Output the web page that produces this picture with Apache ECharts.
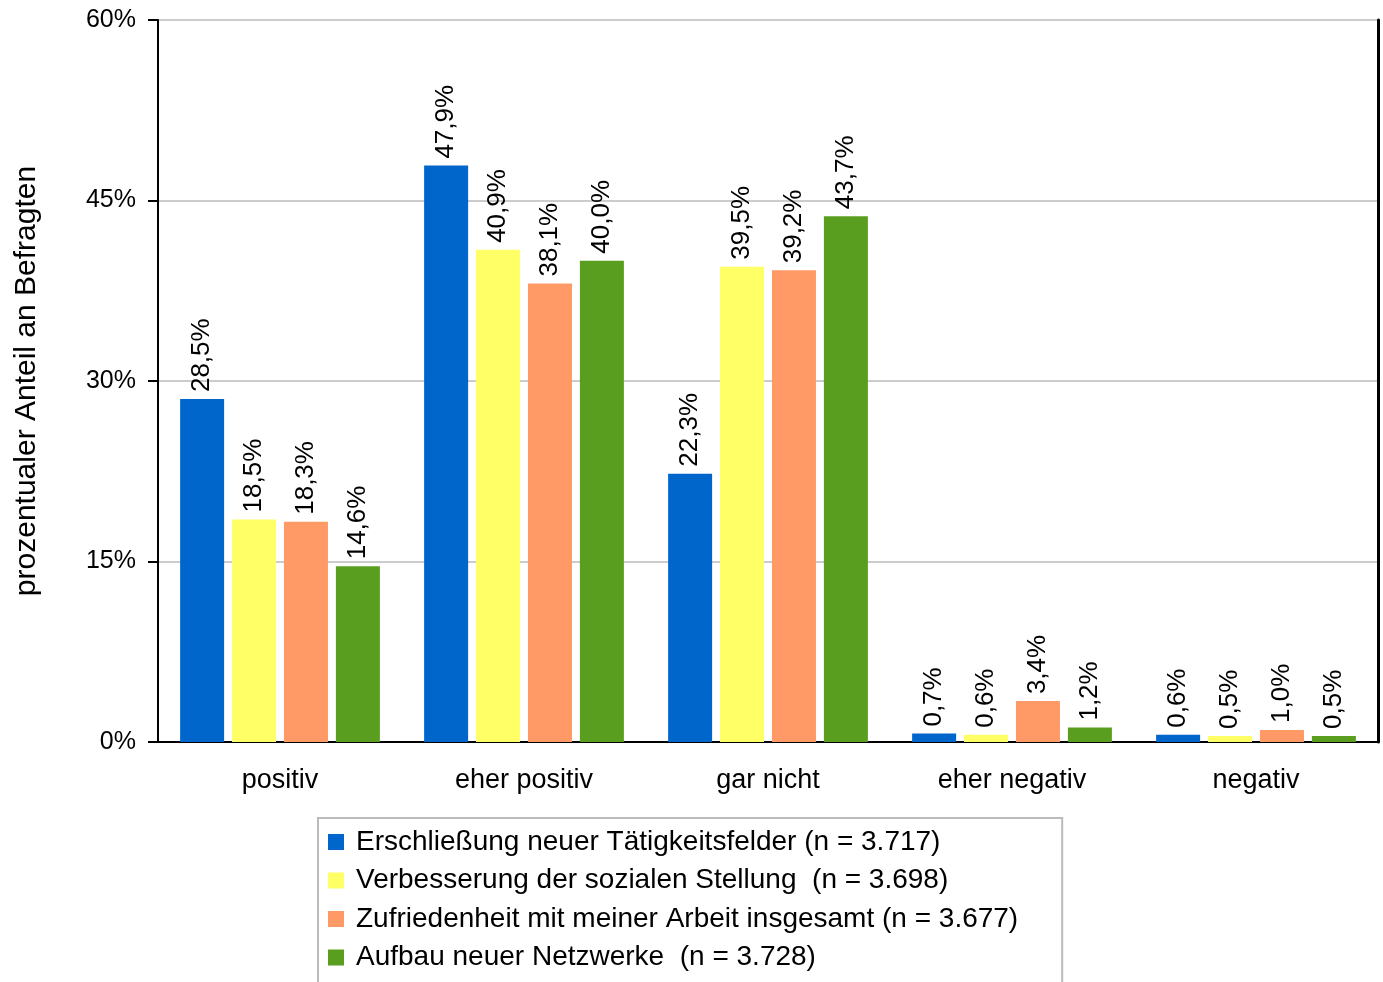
<!DOCTYPE html>
<html>
<head>
<meta charset="utf-8">
<title>Bewertung</title>
<script src="https://cdn.jsdelivr.net/npm/echarts@6/dist/echarts.min.js"></script>
<style>
  html, body { margin: 0; padding: 0; background: #fff; }
  #main { width: 1383px; height: 982px; }
</style>
</head>
<body>
<div id="main"></div>
<script>
// categories and values
var categories = ['positiv', 'eher positiv', 'gar nicht', 'eher negativ', 'negativ'];
var seriesNames = [
  'Erschließung neuer Tätigkeitsfelder (n = 3.717)',
  'Verbesserung der sozialen Stellung  (n = 3.698)',
  'Zufriedenheit mit meiner Arbeit insgesamt (n = 3.677)',
  'Aufbau neuer Netzwerke  (n = 3.728)'
];
var erschliessung = [28.5, 47.9, 22.3, 0.7, 0.6];
var verbesserung = [18.5, 40.9, 39.5, 0.6, 0.5];
var zufriedenheit = [18.3, 38.1, 39.2, 3.4, 1.0];
var netzwerke = [14.6, 40.0, 43.7, 1.2, 0.5];
var yTicks = [0, 15, 30, 45, 60];

var colors = ['#0066cc', '#ffff66', '#ff9966', '#599e1e'];
var font = '"Liberation Sans", Arial, sans-serif';

function makeSeries(name, data, i) {
  return {
    name: name,
    type: 'bar',
    data: data,
    barWidth: 44,
    barGap: '18%',
    itemStyle: { color: colors[i] },
    label: {
      show: true,
      position: 'top',
      rotate: 90,
      align: 'left',
      verticalAlign: 'middle',
      distance: 7,
      color: '#000',
      fontFamily: font,
      fontSize: 26,
      formatter: function (p) { return p.value.toFixed(1).replace('.', ',') + '%'; }
    }
  };
}

var myChart = echarts.init(document.getElementById('main'));
myChart.setOption({
  animation: false,
  backgroundColor: '#fff',
  grid: { left: 158, right: 5, top: 20, bottom: 240 },
  legend: {
    orient: 'vertical',
    left: 318,
    top: 818,
    height: 400,
    padding: [9, 44, 30, 10],
    itemWidth: 16,
    itemHeight: 16,
    itemGap: 8.5,
    icon: 'rect',
    borderColor: '#bbbbbb',
    borderWidth: 2,
    textStyle: { color: '#000', fontFamily: font, fontSize: 28, lineHeight: 30, padding: [0, 0, 0, 7] },
    data: seriesNames
  },
  xAxis: {
    type: 'category',
    data: categories,
    axisLine: { lineStyle: { color: '#000', width: 2 } },
    axisTick: { length: 10, lineStyle: { color: '#000', width: 2 } },
    axisLabel: { color: '#000', fontFamily: font, fontSize: 27, margin: 25 }
  },
  yAxis: [{
    type: 'value',
    min: yTicks[0],
    max: yTicks[yTicks.length - 1],
    interval: 15,
    name: 'prozentualer Anteil an Befragten',
    nameLocation: 'middle',
    nameRotate: 90,
    nameGap: 116,
    nameTextStyle: { color: '#000', fontFamily: font, fontSize: 30 },
    axisLine: { show: true, lineStyle: { color: '#000', width: 2 } },
    axisTick: { show: true, length: 10, lineStyle: { color: '#000', width: 2 } },
    axisLabel: { color: '#000', fontFamily: font, fontSize: 25, margin: 22, formatter: '{value}%' },
    splitLine: { lineStyle: { color: '#cccccc', width: 2 } }
  }, {
    type: 'value',
    min: yTicks[0],
    max: yTicks[yTicks.length - 1],
    interval: 15,
    position: 'right',
    axisLine: { show: true, lineStyle: { color: '#000', width: 3 } },
    axisTick: { show: false },
    axisLabel: { show: false },
    splitLine: { show: false }
  }],
  series: [
    makeSeries(seriesNames[0], erschliessung, 0),
    makeSeries(seriesNames[1], verbesserung, 1),
    makeSeries(seriesNames[2], zufriedenheit, 2),
    makeSeries(seriesNames[3], netzwerke, 3)
  ]
});
</script>
</body>
</html>
